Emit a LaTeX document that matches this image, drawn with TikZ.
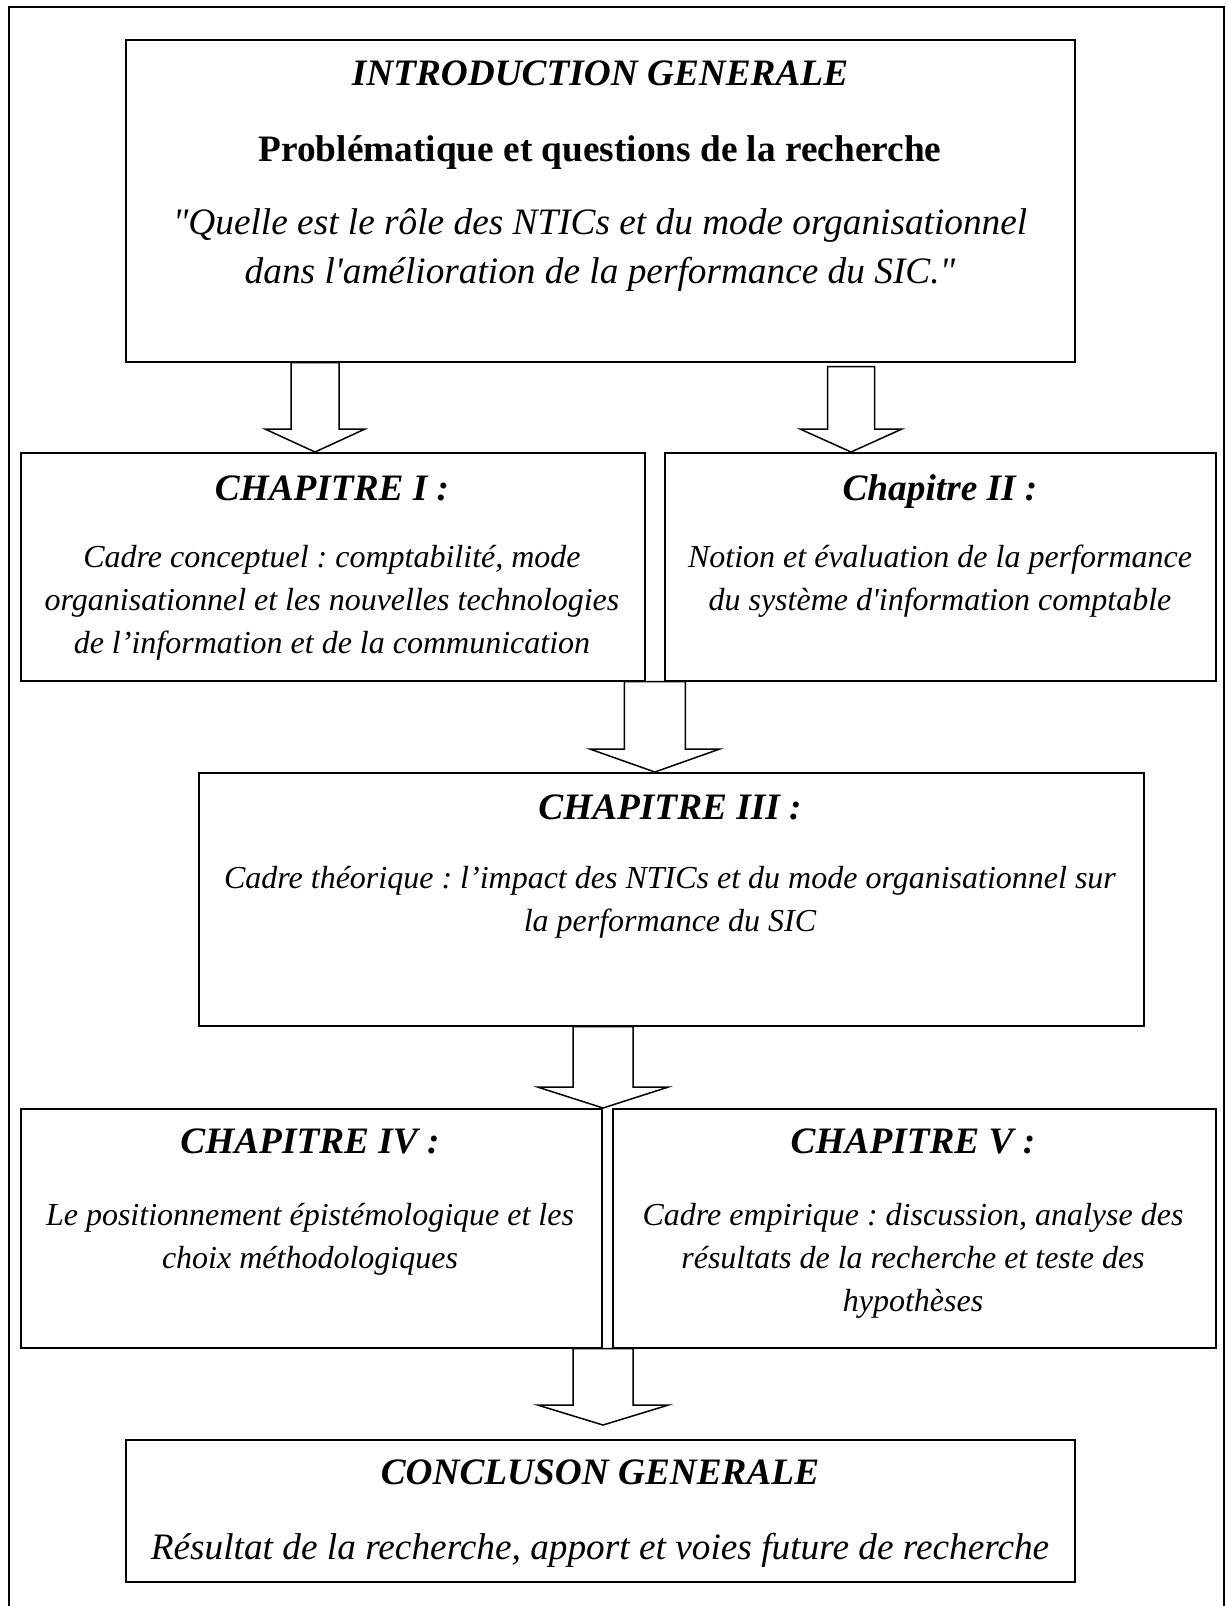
\documentclass[tikz,border=0pt]{standalone}
\usepackage{fontspec}
\setmainfont{Liberation Serif}
\usetikzlibrary{calc}
\frenchspacing

% sizes: one unit = one point, y grows downwards
\newcommand\bigsize{\fontsize{37.3}{49}\selectfont}
\newcommand\smallsize{\fontsize{32}{43}\selectfont}

% hollow block arrow: start, tip, shaft half-width, head half-width, head length
\newcommand\blockarrow[5]{%
  \draw[arrowline] let \p1=(#1), \p2=(#2) in
    (\x1-#3,\y1) -- (\x1-#3,\y2+#5) -- (\x1-#4,\y2+#5) -- (\x1,\y2)
    -- (\x1+#4,\y2+#5) -- (\x1+#3,\y2+#5) -- (\x1+#3,\y1) -- cycle;}

\begin{document}
\begin{tikzpicture}[x=1pt,y=-1pt,
  box/.style={draw,line width=1.6pt,anchor=north west,inner sep=0pt,fill=white},
  arrowline/.style={draw,fill=white,line width=1.5pt,line join=miter},
  headtxt/.style={anchor=base,inner sep=0pt,font=\bigsize\bfseries\itshape},
  boldtxt/.style={anchor=base,inner sep=0pt,font=\bigsize\bfseries},
  bigtxt/.style={anchor=base,inner sep=0pt,align=center,font=\bigsize\itshape},
  bodytxt/.style={anchor=base,inner sep=0pt,align=center,font=\smallsize\itshape}]

\useasboundingbox (0,0) rectangle (1228,1606);
\clip (0,0) rectangle (1228,1606);
\fill[white] (0,0) rectangle (1228,1606);

% outer frame
\draw[line width=2pt] (9,7) rectangle (1224,1640);

% boxes
\node[box,minimum width=949pt,minimum height=322pt] (intro) at (125,39) {};
\node[box,minimum width=624pt,minimum height=228pt] (ch1) at (20,452) {};
\node[box,minimum width=551pt,minimum height=228pt] (ch2) at (664,452) {};
\node[box,minimum width=945pt,minimum height=253pt] (ch3) at (198,772) {};
\node[box,minimum width=581pt,minimum height=239pt] (ch4) at (20,1108) {};
\node[box,minimum width=603pt,minimum height=239pt] (ch5) at (612,1108) {};
\node[box,minimum width=949pt,minimum height=142pt] (concl) at (125,1439) {};

% texts (multi-line texts are placed by the baseline of their last line)
\node[headtxt] (introtitle) at (600,85) {INTRODUCTION GENERALE};
\node[boldtxt] (problem) at (600,161) {Problématique et questions de la recherche};
\node[bigtxt] (question) at (600,283)
  {\textquotedbl Quelle est le rôle des NTICs et du mode organisationnel\\
   dans l\textquotesingle amélioration de la performance du SIC.\textquotedbl};

\node[headtxt] (ch1title) at (332,500) {CHAPITRE I :};
\node[bodytxt] (ch1body) at (332,653)
  {Cadre conceptuel : comptabilité, mode\\
   organisationnel et les nouvelles technologies\\
   de l’information et de la communication};

\node[headtxt] (ch2title) at (940,500) {Chapitre II :};
\node[bodytxt] (ch2body) at (940,610)
  {Notion et évaluation de la performance\\
   du système d\textquotesingle information comptable};

\node[headtxt] (ch3title) at (670,819) {CHAPITRE III :};
\node[bodytxt] (ch3body) at (670,931)
  {Cadre théorique : l’impact des NTICs et du mode organisationnel sur\\
   la performance du SIC};

\node[headtxt] (ch4title) at (310,1153) {CHAPITRE IV :};
\node[bodytxt] (ch4body) at (310,1268)
  {Le positionnement épistémologique et les\\
   choix méthodologiques};

\node[headtxt] (ch5title) at (913,1153) {CHAPITRE V :};
\node[bodytxt] (ch5body) at (913,1311)
  {Cadre empirique : discussion, analyse des\\
   résultats de la recherche et teste des\\
   hypothèses};

\node[headtxt] (concltitle) at (600,1484) {CONCLUSON GENERALE};
\node[bigtxt] (conclbody) at (600,1559)
  {Résultat de la recherche, apport et voies future de recherche};

% arrow anchor points
\coordinate (a1s) at ($(intro.south west)+(190,0)$);
\coordinate (a1e) at (a1s |- ch1.north);
\coordinate (a2s) at ($(intro.south west)+(726,4)$);
\coordinate (a2e) at (a2s |- ch2.north);
\coordinate (a3s) at ($(ch1.south east)!0.5!(ch2.south west)$);
\coordinate (a3e) at (a3s |- ch3.north);
\coordinate (a4s) at ($(ch3.south west)+(405,0)$);
\coordinate (a4e) at (a4s |- ch4.north);
\coordinate (a5s) at (a4s |- ch4.south);
\coordinate (a5e) at ($(a5s |- concl.north)+(0,-14)$);

\blockarrow{a1s}{a1e}{24pt}{50pt}{23pt}
\blockarrow{a2s}{a2e}{23.5pt}{51pt}{23pt}
\blockarrow{a3s}{a3e}{30.5pt}{65pt}{23pt}
\blockarrow{a4s}{a4e}{30pt}{65.5pt}{21pt}
\blockarrow{a5s}{a5e}{30pt}{65.5pt}{20pt}
\end{tikzpicture}
\end{document}
